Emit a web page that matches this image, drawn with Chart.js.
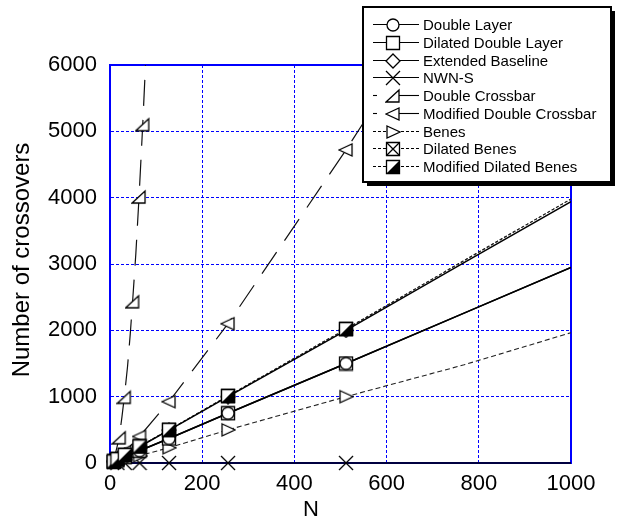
<!DOCTYPE html>
<html>
<head>
<meta charset="utf-8">
<script src="https://cdn.jsdelivr.net/npm/chart.js@4.4.0/dist/chart.umd.min.js"></script>
<style>
  html, body { margin: 0; padding: 0; background: #fff; }
  #wrap { position: relative; width: 621px; height: 531px; }
</style>
</head>
<body>
<div id="wrap"><canvas id="chart"></canvas></div>
<script>
// network size N at which the near-linear curves are sampled
const nSteps = [8, 16, 32, 64, 128, 256, 512, 768, 1000];
const doubleLayer = [16, 40, 88, 185, 370, 750, 1500, 2260, 2950];
const dilatedDoubleLayer = [16, 40, 88, 185, 370, 750, 1500, 2260, 2950];
const extendedBaseline = [24, 56, 120, 245, 495, 1000, 2000, 3020, 3940];
const nwnS = [0, 0, 0, 0, 0, 0, 0, 0, 0];
const benes = [10, 24, 50, 110, 230, 500, 1000, 1480, 1965];
const dilatedBenes = [24, 58, 122, 250, 500, 1010, 2020, 3050, 3980];
const modDilatedBenes = [24, 58, 122, 250, 500, 1010, 2020, 3050, 3980];

// the crossbar curves climb much faster, so they have their own N samples
const nCrossbar = [0, 12, 20, 26, 31, 38, 44, 49, 56, 63, 71, 77];
const doubleCrossbar = [0, 150, 380, 700, 990, 1450, 1950, 2430, 3150, 4010, 5100, 6000];
const nModCrossbar = [8, 16, 32, 64, 128, 256, 512, 630];
const modDoubleCrossbar = [20, 70, 170, 400, 925, 2100, 4720, 6000];

// N values where a symbol is drawn on each curve
const markPow = [8, 16, 32, 64, 128, 256, 512];
const markNwn = [16, 32, 64, 128, 256, 512];
const markCrossbar = [20, 31, 49, 63, 71];
const markModCrossbar = [16, 32, 64, 128, 256, 512];

const xTicks = [0, 200, 400, 600, 800, 1000];
const yTicks = [0, 1000, 2000, 3000, 4000, 5000, 6000];

const FONT = '"Liberation Sans", Arial, sans-serif';
const BLUE = '#0000ff';

// open symbols drawn once onto small canvases, used as point styles
function symbol(draw) {
  const c = document.createElement('canvas');
  c.width = 16; c.height = 16;
  const g = c.getContext('2d');
  g.translate(8, 8);
  g.lineWidth = 1.3;
  g.strokeStyle = '#000';
  g.fillStyle = '#fff';
  draw(g);
  return c;
}
function boxPath(g) { g.beginPath(); g.rect(-6.5, -6.5, 13, 13); }
function poly(g, pts) {
  g.beginPath();
  pts.forEach((p, i) => (i ? g.lineTo(p[0], p[1]) : g.moveTo(p[0], p[1])));
  g.closePath();
  g.fill(); g.stroke();
}

const symCircle = symbol(g => { g.beginPath(); g.arc(0, 0, 6, 0, Math.PI * 2); g.fill(); g.stroke(); });
const symSquare = symbol(g => { boxPath(g); g.fill(); g.stroke(); });
const symDiamond = symbol(g => poly(g, [[0, -7], [7, 0], [0, 7], [-7, 0]]));
const symCross = symbol(g => {
  g.beginPath();
  g.moveTo(-7, -7); g.lineTo(7, 7);
  g.moveTo(7, -7); g.lineTo(-7, 7);
  g.stroke();
});
const symCornerTri = symbol(g => poly(g, [[-7, 6], [6, 6], [6, -6]]));
const symLeftTri = symbol(g => poly(g, [[-7, 0], [6, -6], [6, 6]]));
const symRightTri = symbol(g => poly(g, [[-6, -6], [7, 0], [-6, 6]]));
const symBoxX = symbol(g => {
  boxPath(g); g.fill(); g.stroke();
  g.beginPath();
  g.moveTo(-6.5, -6.5); g.lineTo(6.5, 6.5);
  g.moveTo(6.5, -6.5); g.lineTo(-6.5, 6.5);
  g.stroke();
});
const symBoxHalf = symbol(g => {
  boxPath(g); g.fill();
  g.fillStyle = '#000';
  g.beginPath(); g.moveTo(-6.5, 6.5); g.lineTo(6.5, 6.5); g.lineTo(6.5, -6.5); g.closePath(); g.fill();
  boxPath(g); g.stroke();
});

const SOLID = { color: '#000', width: 1.5, dash: [] };
const LONG = { color: '#111', width: 1.2, dash: [26, 14] };
const SHORT = { color: '#222', width: 1.1, dash: [5, 3] };
const DOTTY = { color: '#222', width: 1.1, dash: [3, 2] };

const series = [
  { label: 'Double Layer', ns: nSteps, vals: doubleLayer, marks: markPow, sym: symCircle, line: SOLID, legend: 'solid' },
  { label: 'Dilated Double Layer', ns: nSteps, vals: dilatedDoubleLayer, marks: markPow, sym: symSquare, line: SOLID, legend: 'solid' },
  { label: 'Extended Baseline', ns: nSteps, vals: extendedBaseline, marks: markPow, sym: symDiamond, line: SOLID, legend: 'solid' },
  { label: 'NWN-S', ns: nSteps, vals: nwnS, marks: markNwn, sym: symCross, line: SOLID, legend: 'solid' },
  { label: 'Double Crossbar', ns: nCrossbar, vals: doubleCrossbar, marks: markCrossbar, sym: symCornerTri, line: LONG, legend: 'long' },
  { label: 'Modified Double Crossbar', ns: nModCrossbar, vals: modDoubleCrossbar, marks: markModCrossbar, sym: symLeftTri, line: LONG, legend: 'long' },
  { label: 'Benes', ns: nSteps, vals: benes, marks: markPow, sym: symRightTri, line: SHORT, legend: 'short' },
  { label: 'Dilated Benes', ns: nSteps, vals: dilatedBenes, marks: markPow, sym: symBoxX, line: DOTTY, legend: 'short' },
  { label: 'Modified Dilated Benes', ns: nSteps, vals: modDilatedBenes, marks: markPow, sym: symBoxHalf, line: DOTTY, legend: 'short' }
];

// symbol stacking: later entries end up on top
const symbolOrder = ['Extended Baseline', 'NWN-S', 'Benes', 'Double Crossbar', 'Modified Double Crossbar',
  'Dilated Double Layer', 'Double Layer', 'Dilated Benes', 'Modified Dilated Benes'];

const datasets = [];
series.forEach(s => {
  datasets.push({
    label: s.label,
    data: s.ns.map((n, i) => ({ x: n, y: s.vals[i] })),
    showLine: true,
    borderColor: s.line.color,
    borderWidth: s.line.width,
    borderDash: s.line.dash,
    pointRadius: 0,
    fill: false,
    tension: 0,
    clip: s.label === 'NWN-S' ? 3 : 0,
    order: 50
  });
  datasets.push({
    label: s.label + ' symbols',
    data: s.marks.map(n => ({ x: n, y: s.vals[s.ns.indexOf(n)] })),
    showLine: false,
    pointStyle: s.sym,
    pointRadius: 8,
    clip: false,
    order: 20 - symbolOrder.indexOf(s.label)
  });
});

// blue frame on the top and right edges of the plot
const framePlugin = {
  id: 'frame',
  beforeDatasetsDraw(chart) {
    const { ctx, chartArea: a } = chart;
    ctx.save();
    ctx.strokeStyle = BLUE;
    ctx.lineWidth = 2;
    ctx.beginPath();
    ctx.moveTo(a.left, a.top);
    ctx.lineTo(a.right, a.top);
    ctx.lineTo(a.right, a.bottom);
    ctx.stroke();
    ctx.restore();
  }
};

// axis titles
const titlePlugin = {
  id: 'titles',
  afterDraw(chart) {
    const { ctx, chartArea: a } = chart;
    ctx.save();
    ctx.fillStyle = '#000';
    ctx.textAlign = 'center';
    ctx.textBaseline = 'middle';
    ctx.font = '22px ' + FONT;
    ctx.fillText('N', 311, 510);
    ctx.font = '24px ' + FONT;
    ctx.translate(22, 260);
    ctx.rotate(-Math.PI / 2);
    ctx.fillText('Number of crossovers', 0, 0);
    ctx.restore();
  }
};

// boxed legend with a drop shadow, line sample + symbol per row
const legendPlugin = {
  id: 'boxLegend',
  afterDraw(chart) {
    const ctx = chart.ctx;
    const x0 = 363, y0 = 7, w = 248, h = 175;
    ctx.save();
    ctx.fillStyle = '#000';
    ctx.fillRect(x0 + 4, y0 + 4, w, h);
    ctx.fillStyle = '#fff';
    ctx.fillRect(x0, y0, w, h);
    ctx.strokeStyle = '#000';
    ctx.lineWidth = 2;
    ctx.strokeRect(x0, y0, w, h);

    ctx.font = '15px ' + FONT;
    ctx.textBaseline = 'middle';
    ctx.textAlign = 'left';
    series.forEach((s, i) => {
      const y = Math.round(24 + i * 17.75) + 0.5;
      ctx.strokeStyle = '#000';
      ctx.lineWidth = 1.1;
      const seg = (a, b, dash) => {
        ctx.setLineDash(dash);
        ctx.beginPath(); ctx.moveTo(a, y); ctx.lineTo(b, y); ctx.stroke();
      };
      if (s.legend === 'solid') {
        seg(373, 419, []);
      } else if (s.legend === 'long') {
        seg(373, 377, []);
        seg(399, 419, []);
      } else {
        seg(373, 387, [3, 2]);
        seg(401, 420, [3, 2]);
      }
      ctx.setLineDash([]);
      ctx.drawImage(s.sym, 393 - 8, Math.round(y) - 8);
      ctx.fillStyle = '#000';
      ctx.fillText(s.label, 423, y + 1);
    });
    ctx.restore();
  }
};

const plainNumber = v => String(v);

new Chart(document.getElementById('chart'), {
  type: 'scatter',
  data: { datasets },
  options: {
    responsive: true,
    maintainAspectRatio: false,
    animation: false,
    events: [],
    layout: { padding: { top: 65, right: 50, left: 0, bottom: 0 } },
    plugins: { legend: { display: false }, tooltip: { enabled: false } },
    scales: {
      x: {
        type: 'linear',
        min: 0,
        max: 1000,
        afterBuildTicks: sc => { sc.ticks = xTicks.map(v => ({ value: v })); },
        afterFit: sc => { sc.height = 68; },
        ticks: { color: '#000', font: { family: FONT, size: 22 }, padding: 8, maxRotation: 0, callback: plainNumber },
        grid: { color: BLUE, lineWidth: 1, drawTicks: false },
        border: { color: BLUE, width: 2, dash: [3, 2] }
      },
      y: {
        type: 'linear',
        min: 0,
        max: 6000,
        afterBuildTicks: sc => { sc.ticks = yTicks.map(v => ({ value: v })); },
        afterFit: sc => { sc.width = 110; },
        ticks: { color: '#000', font: { family: FONT, size: 22 }, padding: 13, callback: plainNumber },
        grid: { color: BLUE, lineWidth: 1, drawTicks: false },
        border: { color: BLUE, width: 2, dash: [3, 2] }
      }
    }
  },
  plugins: [framePlugin, titlePlugin, legendPlugin]
});
</script>
</body>
</html>
